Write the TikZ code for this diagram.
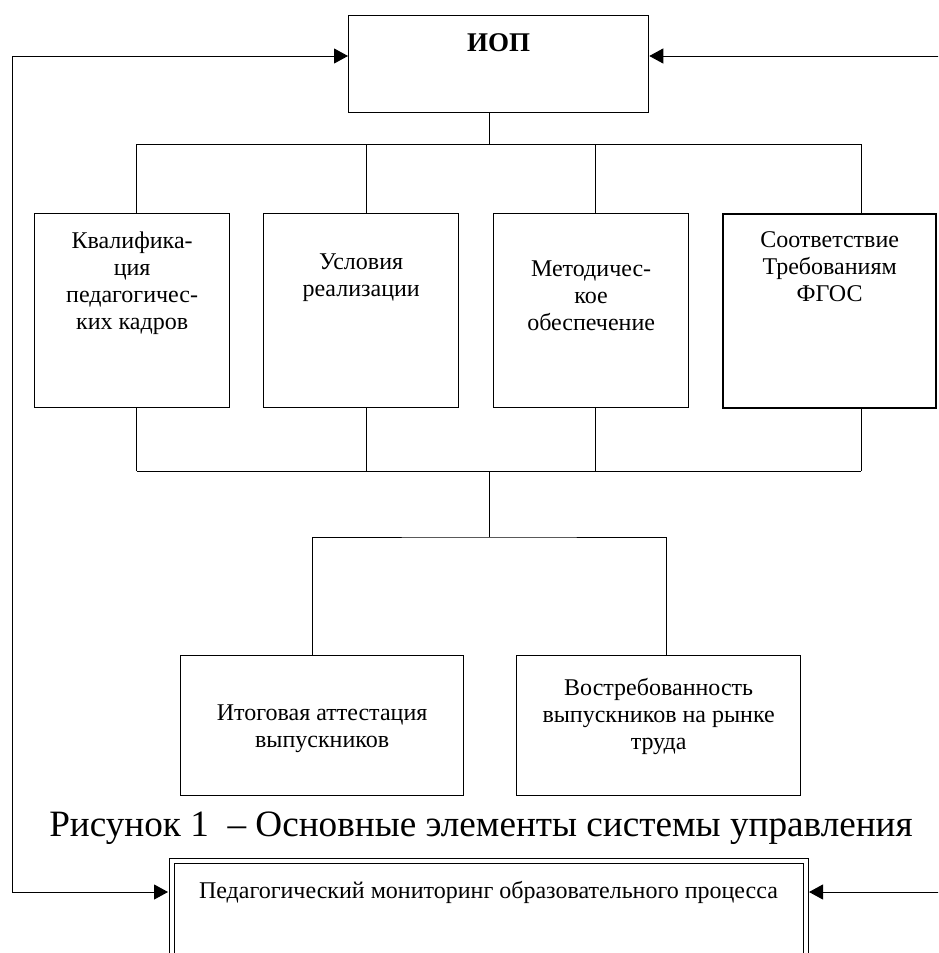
\documentclass[tikz,border=0pt]{standalone}
\usepackage{fontspec}
\setmainfont{Liberation Serif}
\usetikzlibrary{positioning,arrows.meta}

\begin{document}
\begin{tikzpicture}[x=0.5pt,y=-0.5pt,>={Triangle[length=7pt,width=7.5pt]},
  blok/.style={draw,line width=0.65pt,anchor=north west,inner sep=0pt,minimum width=97.5pt,minimum height=97pt},
  txt/.style={align=center,inner sep=0pt,font=\fontsize{12}{13.5}\selectfont},
  link/.style={line width=0.5pt},
  fb/.style={line width=0.5pt}]
\useasboundingbox (0,0) rectangle (938,953);
\clip (0,0) rectangle (938,953);
\node[blok,minimum width=150pt,minimum height=48.5pt] (iop) at (348,15) {};
\node[txt,font=\bfseries\fontsize{13.5}{15}\selectfont,below=9pt of iop.north] (iopt) {ИОП};

\node[blok] (k1) at (34,213) {};
\node[blok] (k2) at (263,213) {};
\node[blok] (k3) at (493,213) {};
\node[blok,minimum width=106.5pt,line width=1.15pt] (k4) at (722,213) {};
\node[txt,below=9pt of k1.north] (k1t) {Квалифика-\\ция\\педагогичес-\\ких кадров};
\node[txt,below=20pt of k2.north] (k2t) {Условия\\реализации};
\node[txt,below=23.5pt of k3.north] (k3t) {Методичес-\\кое\\обеспечение};
\node[txt,below=9pt of k4.north] (k4t) {Соответствие\\Требованиям\\ФГОС};

\node[blok,minimum width=141.5pt,minimum height=70pt] (b1) at (180,655) {};
\node[blok,minimum width=142pt,minimum height=70pt] (b2) at (516,655) {};
\node[txt,below=24.5pt of b1.north] (b1t) {Итоговая аттестация\\выпускников};
\node[txt,below=11.5pt of b2.north] (b2t) {Востребованность\\выпускников на рынке\\труда};

\node[inner sep=0pt,anchor=north,font=\fontsize{18.6}{21}\selectfont] (cap) at (481,811) {Рисунок 1~ – Основные элементы системы управления};

\node[draw,line width=0.5pt,double,double distance=2pt,anchor=north west,inner sep=0pt,minimum width=317pt,minimum height=60pt] (mon) at (171,860) {};
\node[txt,below=10.5pt of mon.north] (mont) {Педагогический мониторинг образовательного процесса};

\coordinate (t) at (489,144);
\coordinate (m) at (489,471);
\coordinate (n) at (489,537);
\draw[link] (iop.south -| t) -- (t);
\foreach \n/\s in {k1/2.25pt,k2/2.75pt,k3/2.25pt,k4/15.75pt}{
  \draw[link] ([xshift=\s]\n.north) -- ([xshift=\s]\n.north |- t);
  \draw[link] ([xshift=\s]\n.south) -- ([xshift=\s]\n.south |- m);
}
\draw[link] ([xshift=2.25pt]k1.north |- t) -- ([xshift=15.75pt]k4.north |- t);
\draw[link] ([xshift=2.25pt]k1.south |- m) -- ([xshift=15.75pt]k4.south |- m);
\draw[link] (m) -- (n);
\draw[link] ([xshift=-4.75pt]b1.north) |- (n) -| ([xshift=4pt]b2.north);

\coordinate (l1) at (12,56);
\coordinate (l2) at (12,892);
\coordinate (r1) at (950,56);
\coordinate (r2) at (950,892);
\draw[fb,<->] (iop.west |- l1) -- (l1) -- (l2) -- ([xshift=-1.5pt]mon.west |- l2);
\draw[fb,->] (r1) -- (iop.east |- r1);
\draw[fb,->] (r2) -- ([xshift=1.5pt]mon.east |- r2);
\end{tikzpicture}
\end{document}
